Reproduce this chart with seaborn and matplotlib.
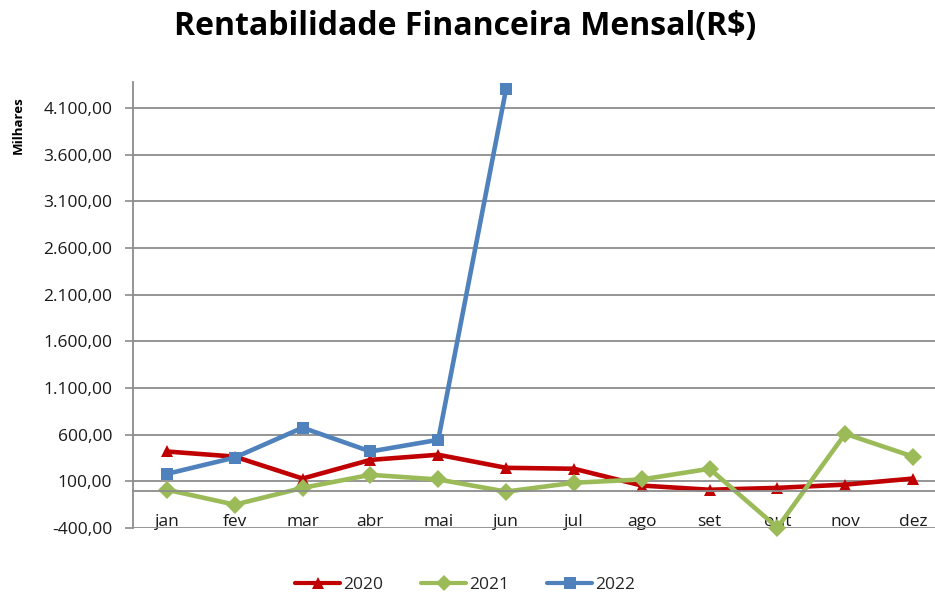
import pandas as pd
import seaborn as sns
import matplotlib.pyplot as plt
from matplotlib.ticker import FuncFormatter, FixedLocator

meses = ['jan', 'fev', 'mar', 'abr', 'mai', 'jun', 'jul', 'ago', 'set', 'out', 'nov', 'dez']
v2020 = [420, 365, 130, 330, 385, 245, 235, 55, 10, 30, 65, 130]
v2021 = [10, -150, 30, 170, 120, -10, 85, 120, 235, -395, 610, 365]
v2022 = [180, 355, 675, 420, 545, 4305]

rows = []
for ano, vals in [('2020', v2020), ('2021', v2021), ('2022', v2022)]:
    for i, v in enumerate(vals):
        rows.append({'pos': i, 'valor': v, 'ano': ano})
df = pd.DataFrame(rows)

sns.set_style('white')
plt.rcParams['font.family'] = ['Open Sans', 'DejaVu Sans']

cores = {'2020': '#C00000', '2021': '#9BBB59', '2022': '#4F81BD'}
marcadores = {'2020': '^', '2021': 'D', '2022': 's'}

fig = plt.figure(figsize=(9.35, 5.97), dpi=100)
ax = fig.add_axes([133 / 935, 1 - 528 / 597, (947 - 133) / 935, (528 - 82) / 597])

sns.lineplot(data=df, x='pos', y='valor', hue='ano', style='ano',
             palette=cores, markers=marcadores, dashes=False,
             linewidth=3.3, markersize=9, markeredgewidth=0,
             ax=ax, legend=True, clip_on=False)

ax.set_xlim(-0.5, 11.5)
ax.set_ylim(-400, 4380)
ax.set_yticks(range(-400, 4101, 500))
ax.yaxis.set_major_formatter(FuncFormatter(
    lambda v, p: f'{v:,.2f}'.replace(',', 'X').replace('.', ',').replace('X', '.')))
ax.grid(axis='y', color='#8c8c8c', linewidth=1.3)
ax.set_axisbelow(True)

for s in ['top', 'right']:
    ax.spines[s].set_visible(False)
ax.spines['left'].set_color('#8c8c8c')
ax.spines['left'].set_linewidth(1.3)
ax.spines['bottom'].set_position(('data', 0))
ax.spines['bottom'].set_color('#8c8c8c')
ax.spines['bottom'].set_linewidth(1.3)

ax.set_xticks(range(12))
ax.set_xticklabels(meses)
ax.xaxis.set_minor_locator(FixedLocator([i + 0.5 for i in range(-1, 12)]))
ax.tick_params(axis='x', which='major', length=0, pad=17, labelsize=12.5, labelcolor='#1a1a1a')
ax.tick_params(axis='x', which='minor', length=6, width=1.2, color='#8c8c8c', direction='out')
ax.tick_params(axis='y', length=6, width=1.2, color='#8c8c8c', direction='out',
               labelsize=12.5, labelcolor='#1a1a1a', pad=9, left=True)
ax.set_xlabel('')
ax.set_ylabel('')

fig.text(18 / 935, 1 - 125 / 597, 'Milhares', rotation=90, ha='center', va='center',
         fontsize=9.5, fontweight='bold', color='black')
fig.suptitle('Rentabilidade Financeira Mensal(R$)', x=465 / 935, y=1 - 27 / 597,
             va='center', fontsize=23, fontweight='bold', color='black')

handles, labels = ax.get_legend_handles_labels()
ax.get_legend().remove()
for h in handles:
    h.set_linewidth(3)
    h.set_markersize(8)
fig.legend(handles, labels, loc='center', bbox_to_anchor=(465 / 935, 1 - 585 / 597),
           ncol=3, frameon=False, fontsize=12.5, handlelength=2.6, columnspacing=2.2,
           handletextpad=0.15)

fig.savefig('out.png', dpi=100)
